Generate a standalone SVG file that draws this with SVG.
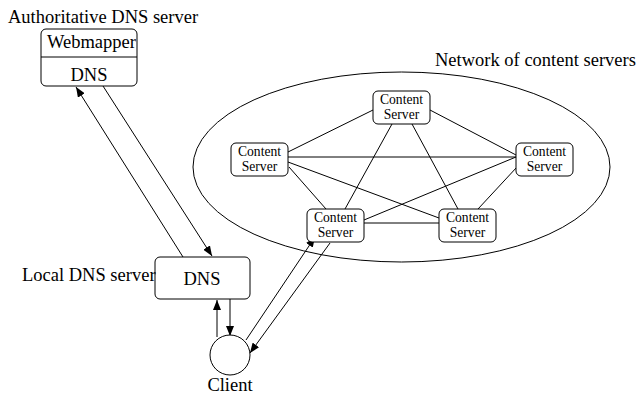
<svg xmlns="http://www.w3.org/2000/svg" width="642" height="395" viewBox="0 0 642 395">
  <style>
    .box { fill: #fff; stroke: #000; stroke-width: 1; }
    .ln { fill: none; stroke: #000; stroke-width: 1; }
    .lbl { font-family: "Liberation Serif", "Times New Roman", serif; font-size: 18.5px; fill: #000; }
    .cs { font-family: "Liberation Serif", "Times New Roman", serif; font-size: 13.6px; fill: #000; text-anchor: middle; }
    .mid { text-anchor: middle; }
  </style>
  <defs>
    <marker id="arr" viewBox="0 0 10 8" refX="10" refY="4" markerWidth="10" markerHeight="8" markerUnits="userSpaceOnUse" orient="auto">
      <path d="M0,0 L10,4 L0,8 Z" fill="#000"/>
    </marker>
  </defs>

  <!-- content network boundary -->
  <g id="network">
    <ellipse class="ln" cx="401.5" cy="167" rx="208.5" ry="95"/>
    <text class="lbl" x="435" y="66">Network of content servers</text>
  </g>

  <!-- connectors -->
  <g id="connectors">
    <!-- mesh between content servers -->
    <line class="ln" x1="373" y1="110" x2="288" y2="152"/>
    <line class="ln" x1="430" y1="110" x2="516" y2="155"/>
    <line class="ln" x1="392" y1="124" x2="345" y2="209"/>
    <line class="ln" x1="412" y1="124" x2="458" y2="209"/>
    <line class="ln" x1="288" y1="157" x2="516" y2="157"/>
    <line class="ln" x1="289" y1="167" x2="326" y2="209"/>
    <line class="ln" x1="288" y1="162" x2="439" y2="218"/>
    <line class="ln" x1="516" y1="157" x2="364" y2="220"/>
    <line class="ln" x1="517" y1="167" x2="478" y2="209"/>
    <line class="ln" x1="364" y1="223" x2="439" y2="223"/>
    <!-- authoritative <-> local DNS -->
    <line class="ln" x1="183" y1="257" x2="76" y2="87" marker-end="url(#arr)"/>
    <line class="ln" x1="103" y1="86" x2="212" y2="256" marker-end="url(#arr)"/>
    <!-- local DNS <-> client -->
    <line class="ln" x1="217" y1="337" x2="217" y2="300" marker-end="url(#arr)"/>
    <line class="ln" x1="230" y1="299" x2="230" y2="336" marker-end="url(#arr)"/>
    <!-- client <-> content server -->
    <line class="ln" x1="246" y1="340" x2="315" y2="237" marker-end="url(#arr)"/>
    <line class="ln" x1="330" y1="243" x2="250" y2="353" marker-end="url(#arr)"/>
  </g>

  <g id="auth-dns">
    <text class="lbl" x="8" y="23">Authoritative DNS server</text>
    <rect class="box" x="41" y="29" width="96" height="57" rx="5"/>
    <line class="ln" x1="41" y1="57" x2="137" y2="57"/>
    <text class="lbl" x="47" y="48">Webmapper</text>
    <text class="lbl mid" x="89" y="81">DNS</text>
  </g>

  <g id="local-dns">
    <rect class="box" x="155" y="257" width="95" height="42" rx="5"/>
    <text class="lbl mid" x="202" y="285">DNS</text>
    <text class="lbl" x="22" y="281">Local DNS server</text>
  </g>

  <g id="client">
    <circle class="box" cx="230" cy="355" r="20"/>
    <text class="lbl mid" x="230" y="391">Client</text>
  </g>

  <g id="cs-top">
    <rect class="box" x="373" y="91" width="57" height="33" rx="5"/>
    <text class="cs" x="401.5" y="104">Content<tspan x="401.5" dy="15.1">Server</tspan></text>
  </g>
  <g id="cs-left">
    <rect class="box" x="231" y="143" width="57" height="33" rx="5"/>
    <text class="cs" x="259.5" y="156">Content<tspan x="259.5" dy="15.1">Server</tspan></text>
  </g>
  <g id="cs-right">
    <rect class="box" x="516" y="143" width="57" height="33" rx="5"/>
    <text class="cs" x="544.5" y="156">Content<tspan x="544.5" dy="15.1">Server</tspan></text>
  </g>
  <g id="cs-bottom-left">
    <rect class="box" x="307" y="209" width="57" height="33" rx="5"/>
    <text class="cs" x="335.5" y="222">Content<tspan x="335.5" dy="15.1">Server</tspan></text>
  </g>
  <g id="cs-bottom-right">
    <rect class="box" x="439" y="209" width="57" height="33" rx="5"/>
    <text class="cs" x="467.5" y="222">Content<tspan x="467.5" dy="15.1">Server</tspan></text>
  </g>
</svg>
